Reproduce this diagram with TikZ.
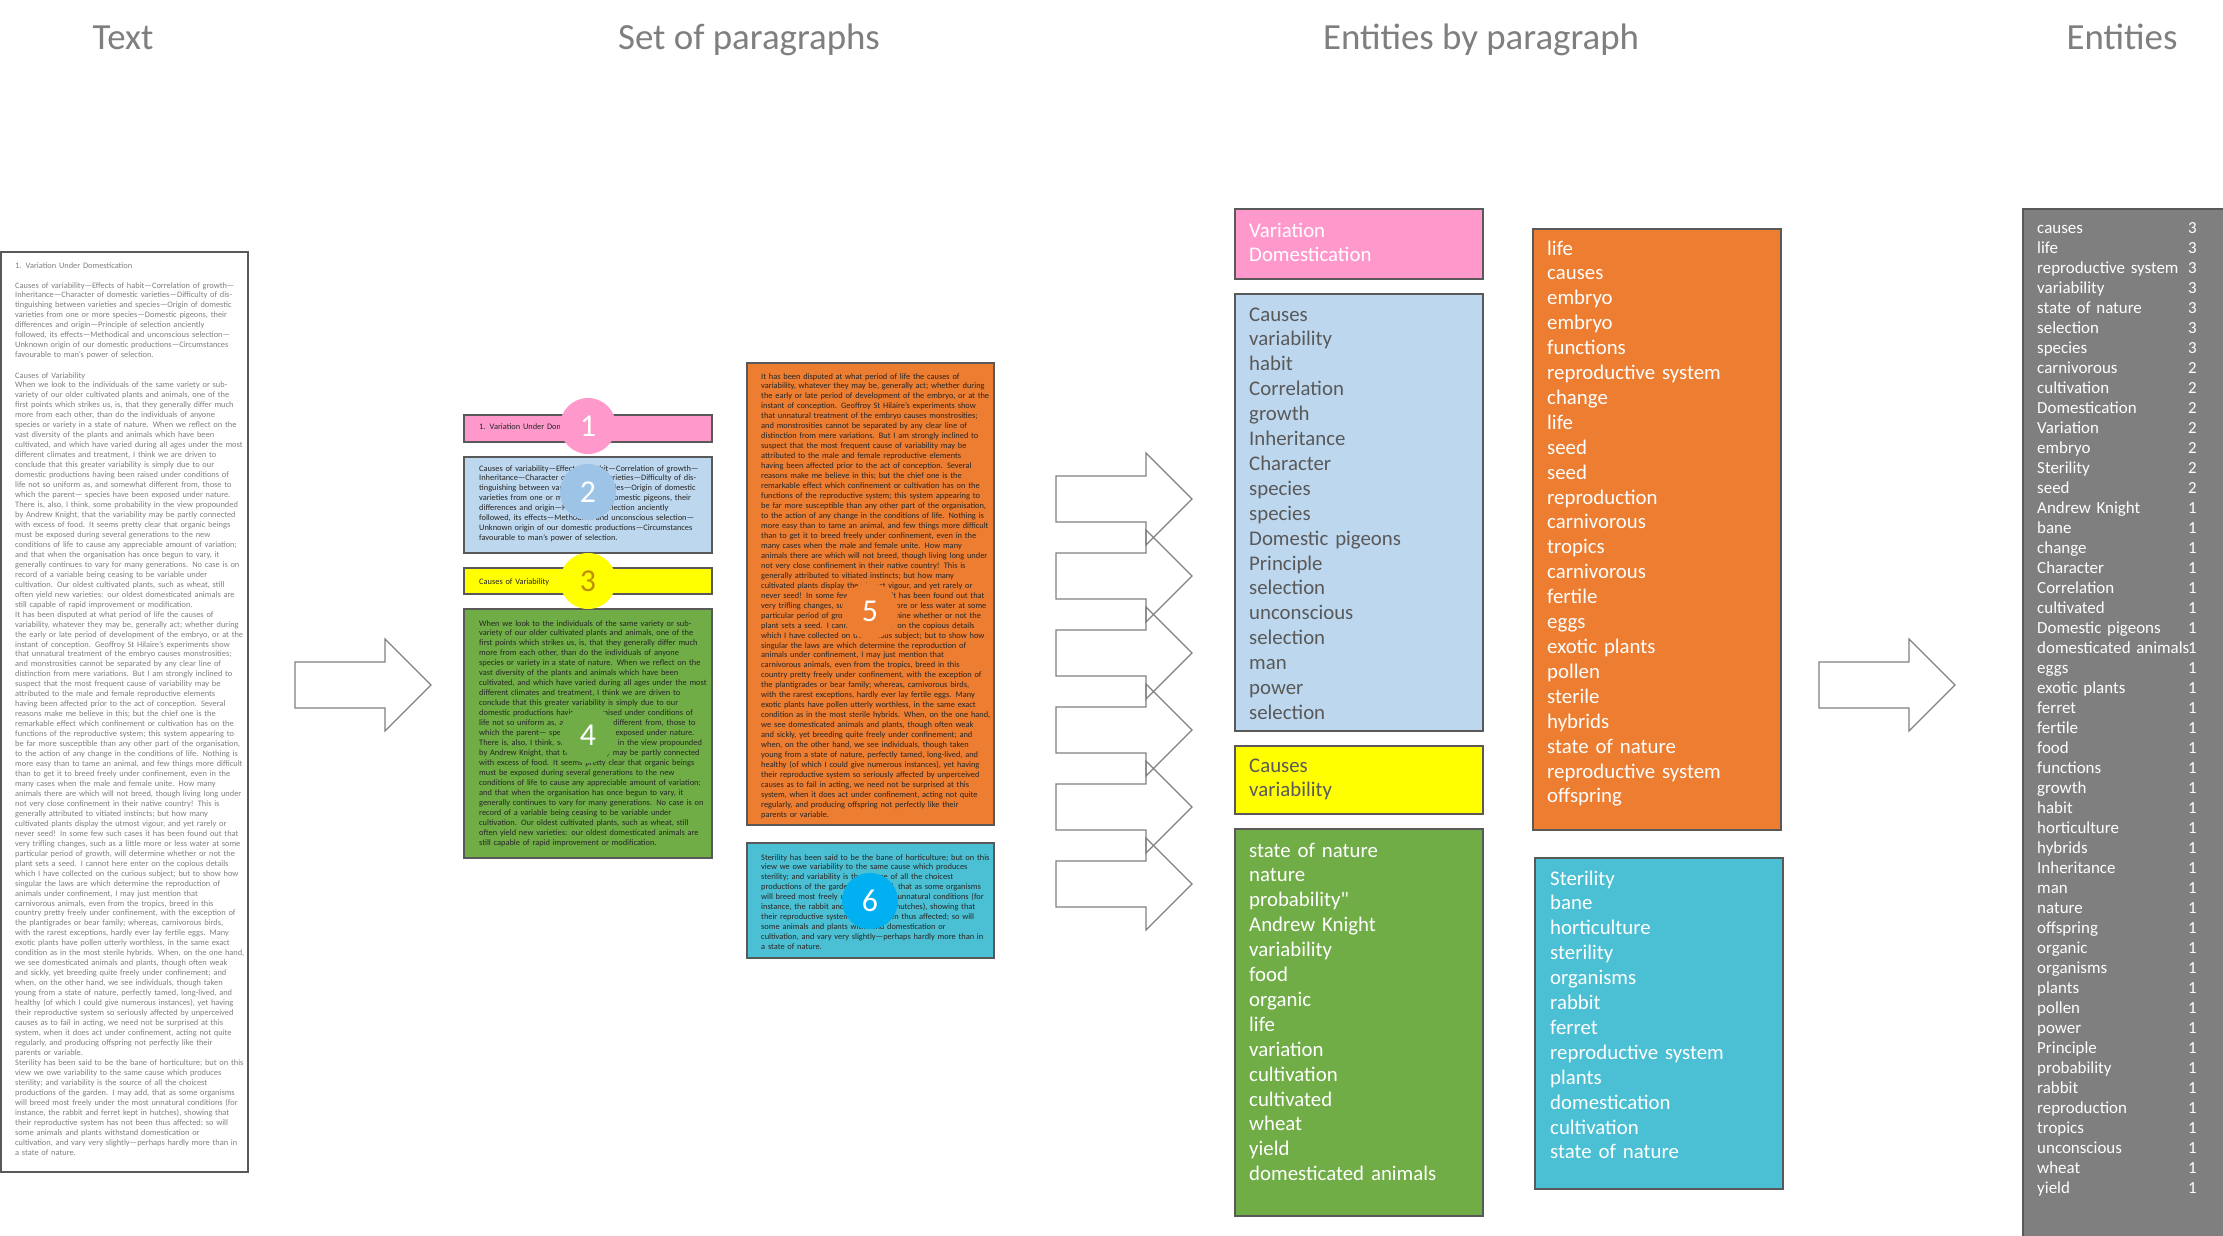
\documentclass[tikz,border=0pt]{standalone}
\usepackage{fontspec}
\setmainfont{Carlito}
\newfontfamily\rawcarlito{Carlito}
\definecolor{hdrgrey}{HTML}{7F7F7F}
\definecolor{bordgrey}{HTML}{595959}
\definecolor{coltext}{HTML}{808080}
\definecolor{darktxt}{HTML}{262626}
\definecolor{pinkc}{HTML}{FF99CC}
\definecolor{bluec}{HTML}{BDD7EE}
\definecolor{bluecirc}{HTML}{9DC3E6}
\definecolor{yellowc}{HTML}{FFFF00}
\definecolor{goldc}{HTML}{BF9000}
\definecolor{greenc}{HTML}{70AD47}
\definecolor{orangec}{HTML}{ED7D31}
\definecolor{cyanc}{HTML}{4BBFD3}
\definecolor{cyancirc}{HTML}{00B0F0}
\definecolor{listgrey}{HTML}{7F7F7F}
\definecolor{arrowgrey}{HTML}{808080}

\newcommand\txtTitle{1. Variation Under Domestication}
\newcommand\txtB{Causes of variability—Effects of habit—Correlation of growth—\\
Inheritance—Character of domestic varieties—Difficulty of dis-\\
tinguishing between varieties and species—Origin of domestic\\
varieties from one or more species—Domestic pigeons, their\\
differences and origin—Principle of selection anciently\\
followed, its effects—Methodical and unconscious selection—\\
Unknown origin of our domestic productions—Circumstances\\
favourable to man’s power of selection.}
\newcommand\txtD{When we look to the individuals of the same variety or sub-\\
variety of our older cultivated plants and animals, one of the\\
first points which strikes us, is, that they generally differ much\\
more from each other, than do the individuals of anyone\\
species or variety in a state of nature. When we reflect on the\\
vast diversity of the plants and animals which have been\\
cultivated, and which have varied during all ages under the most\\
different climates and treatment, I think we are driven to\\
conclude that this greater variability is simply due to our\\
domestic productions having been raised under conditions of\\
life not so uniform as, and somewhat different from, those to\\
which the parent— species have been exposed under nature.\\
There is, also, I think, some probability in the view propounded\\
by Andrew Knight, that the variability may be partly connected\\
with excess of food. It seems pretty clear that organic beings\\
must be exposed during several generations to the new\\
conditions of life to cause any appreciable amount of variation;\\
and that when the organisation has once begun to vary, it\\
generally continues to vary for many generations. No case is on\\
record of a variable being ceasing to be variable under\\
cultivation. Our oldest cultivated plants, such as wheat, still\\
often yield new varieties: our oldest domesticated animals are\\
still capable of rapid improvement or modification.}
\newcommand\txtE{It has been disputed at what period of life the causes of\\
variability, whatever they may be, generally act; whether during\\
the early or late period of development of the embryo, or at the\\
instant of conception. Geoffroy St Hilaire’s experiments show\\
that unnatural treatment of the embryo causes monstrosities;\\
and monstrosities cannot be separated by any clear line of\\
distinction from mere variations. But I am strongly inclined to\\
suspect that the most frequent cause of variability may be\\
attributed to the male and female reproductive elements\\
having been affected prior to the act of conception. Several\\
reasons make me believe in this; but the chief one is the\\
remarkable effect which confinement or cultivation has on the\\
functions of the reproductive system; this system appearing to\\
be far more susceptible than any other part of the organisation,\\
to the action of any change in the conditions of life. Nothing is\\
more easy than to tame an animal, and few things more difficult\\
than to get it to breed freely under confinement, even in the\\
many cases when the male and female unite. How many\\
animals there are which will not breed, though living long under\\
not very close confinement in their native country! This is\\
generally attributed to vitiated instincts; but how many\\
cultivated plants display the utmost vigour, and yet rarely or\\
never seed! In some few such cases it has been found out that\\
very trifling changes, such as a little more or less water at some\\
particular period of growth, will determine whether or not the\\
plant sets a seed. I cannot here enter on the copious details\\
which I have collected on the curious subject; but to show how\\
singular the laws are which determine the reproduction of\\
animals under confinement, I may just mention that\\
carnivorous animals, even from the tropics, breed in this\\
country pretty freely under confinement, with the exception of\\
the plantigrades or bear family; whereas, carnivorous birds,\\
with the rarest exceptions, hardly ever lay fertile eggs. Many\\
exotic plants have pollen utterly worthless, in the same exact\\
condition as in the most sterile hybrids. When, on the one hand,\\
we see domesticated animals and plants, though often weak\\
and sickly, yet breeding quite freely under confinement; and\\
when, on the other hand, we see individuals, though taken\\
young from a state of nature, perfectly tamed, long-lived, and\\
healthy (of which I could give numerous instances), yet having\\
their reproductive system so seriously affected by unperceived\\
causes as to fail in acting, we need not be surprised at this\\
system, when it does act under confinement, acting not quite\\
regularly, and producing offspring not perfectly like their\\
parents or variable.}
\newcommand\txtF{Sterility has been said to be the bane of horticulture; but on this\\
view we owe variability to the same cause which produces\\
sterility; and variability is the source of all the choicest\\
productions of the garden. I may add, that as some organisms\\
will breed most freely under the most unnatural conditions (for\\
instance, the rabbit and ferret kept in hutches), showing that\\
their reproductive system has not been thus affected; so will\\
some animals and plants withstand domestication or\\
cultivation, and vary very slightly—perhaps hardly more than in\\
a state of nature.}

\tikzset{
  hdr/.style={font=\fontsize{37}{44}\selectfont, text=hdrgrey, inner sep=0pt, anchor=base},
  coltxt/.style={font=\fontsize{8.4}{10}\selectfont, text=coltext, inner sep=0pt, anchor=base west, align=left, text width=300bp},
  partxt/.style={font=\fontsize{8.4}{10}\selectfont, text=darktxt, inner sep=0pt, anchor=base west, align=left, text width=300bp},
  boxline/.style={draw=bordgrey, line width=1.2bp},
  numcirc/.style={circle, minimum size=56bp, inner sep=0pt, font=\fontsize{32}{38}\selectfont, text=white},
  enttxt/.style={font=\fontsize{20.9}{25}\selectfont, inner sep=0pt, anchor=base west, align=left, text width=240bp},
  listtxt/.style={font=\fontsize{17}{20.08}\selectfont, text=white, inner sep=0pt, anchor=base west, align=left, text width=180bp},
  listnum/.style={font=\fontsize{17}{20.08}\selectfont, text=white, inner sep=0pt, anchor=base east, align=right, text width=20bp},
  arrowline/.style={draw=arrowgrey, line width=1.2bp, line join=miter},
  blkarrow/.pic={\draw[arrowline] (0,-23) -- (90,-23) -- (90,-46) -- (136,0) -- (90,46) -- (90,23) -- (0,23) -- cycle;}
}

\begin{document}
\begin{tikzpicture}[x=1bp, y=-1bp]
\useasboundingbox (0,0) rectangle (2223,1235);
\clip (0,0) rectangle (2223,1235);
\fill[white] (0,0) rectangle (2223,1235);

% headers
\node[hdr] (hText) at (123,49) {Text};
\node[hdr] (hSet) at (749,49) {Set of paragraphs};
\node[hdr] (hEbp) at (1481,49) {Entities by paragraph};
\node[hdr] (hEnt) at (2122,49) {Entities};

% text column
\draw[boxline] (1,252) rectangle (248,1172);
\node[coltxt] (colA) at (15,268) {\txtTitle};
\node[coltxt] (colB) at (15,288) {\txtB};
\node[coltxt] (colC) at (15,378) {Causes of Variability\\\txtD\\\txtE\\\txtF};

% big arrows
\pic at (295,685) {blkarrow};
\pic at (1819,685) {blkarrow};

% paragraph boxes
\draw[boxline, fill=pinkc] (464,415) rectangle (712,442);
\node[partxt] (p1) at (479,429) {\txtTitle};
\draw[boxline, fill=bluec] (464,457) rectangle (712,553);
\node[partxt] (p2) at (479,471) {\txtB};
\draw[boxline, fill=yellowc] (464,568) rectangle (712,594);
\node[partxt] (p3) at (479,584) {Causes of Variability};
\draw[boxline, fill=greenc] (464,609) rectangle (712,858);
\node[partxt] (p4) at (479,626) {\txtD};
\draw[boxline, fill=orangec] (747,363) rectangle (994,825);
\node[partxt] (p5) at (761,379) {\txtE};
\draw[boxline, fill=cyanc] (747,843) rectangle (994,958);
\node[partxt] (p6) at (761,860) {\txtF};

% number circles
\node[numcirc, fill=pinkc] (c1) at (588,426) {1};
\node[numcirc, fill=bluecirc] (c2) at (588,492) {2};
\node[numcirc, fill=yellowc, text=goldc] (c3) at (588,581) {3};
\node[numcirc, fill=greenc] (c4) at (588,735) {4};
\node[numcirc, fill=orangec] (c5) at (870,611) {5};
\node[numcirc, fill=cyancirc] (c6) at (870,901) {6};

% small arrows
\foreach \ty in {499,576,653,730,807,884} {
  \pic at (1056,\ty) {blkarrow};
}

% entities by paragraph
\draw[boxline, fill=pinkc] (1235,209) rectangle (1483,279);
\node[enttxt, text=white] (e1) at (1249,237) {Variation\\Domestication};
\draw[boxline, fill=bluec] (1235,294) rectangle (1483,731);
\node[enttxt, text=bordgrey] (e2) at (1249,321) {Causes\\variability\\habit\\Correlation\\growth\\Inheritance\\Character\\species\\species\\Domestic pigeons\\Principle\\selection\\unconscious\\selection\\man\\power\\selection};
\draw[boxline, fill=yellowc] (1235,746) rectangle (1483,814);
\node[enttxt, text=bordgrey] (e3) at (1249,772) {Causes\\variability};
\draw[boxline, fill=greenc] (1235,829) rectangle (1483,1216);
\node[enttxt, text=white] (e4) at (1249,857) {state of nature\\nature\\{\rawcarlito probability"}\\Andrew Knight\\variability\\food\\organic\\life\\variation\\cultivation\\cultivated\\wheat\\yield\\domesticated animals};
\draw[boxline, fill=orangec] (1533,229) rectangle (1781,830);
\node[enttxt, text=white] (e5) at (1547,255) {life\\causes\\embryo\\embryo\\functions\\reproductive system\\change\\life\\seed\\seed\\reproduction\\carnivorous\\tropics\\carnivorous\\fertile\\eggs\\exotic plants\\pollen\\sterile\\hybrids\\state of nature\\reproductive system\\offspring};
\draw[boxline, fill=cyanc] (1535,858) rectangle (1783,1189);
\node[enttxt, text=white] (e6) at (1550,885) {Sterility\\bane\\horticulture\\sterility\\organisms\\rabbit\\ferret\\reproductive system\\plants\\domestication\\cultivation\\state of nature};

% entities list
\draw[boxline, fill=listgrey] (2023,209) rectangle (2240,1250);
\node[listtxt] (lnames) at (2037,233) {causes\\life\\reproductive system\\variability\\state of nature\\selection\\species\\carnivorous\\cultivation\\Domestication\\Variation\\embryo\\Sterility\\seed\\Andrew Knight\\bane\\change\\Character\\Correlation\\cultivated\\Domestic pigeons\\domesticated animals\\eggs\\exotic plants\\ferret\\fertile\\food\\functions\\growth\\habit\\horticulture\\hybrids\\Inheritance\\man\\nature\\offspring\\organic\\organisms\\plants\\pollen\\power\\Principle\\probability\\rabbit\\reproduction\\tropics\\unconscious\\wheat\\yield};
\node[listnum] (lnums) at (2197,233) {3\\3\\3\\3\\3\\3\\3\\2\\2\\2\\2\\2\\2\\2\\1\\1\\1\\1\\1\\1\\1\\1\\1\\1\\1\\1\\1\\1\\1\\1\\1\\1\\1\\1\\1\\1\\1\\1\\1\\1\\1\\1\\1\\1\\1\\1\\1\\1\\1};
\end{tikzpicture}
\end{document}
